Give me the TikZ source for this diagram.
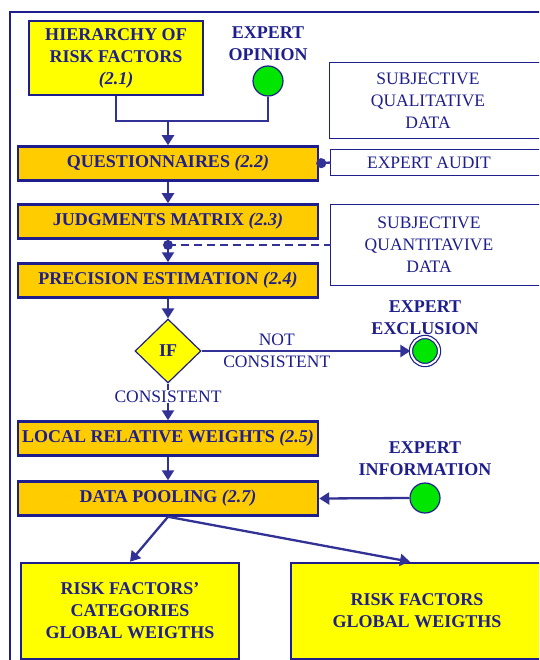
\documentclass[tikz,border=0pt]{standalone}
\usepackage{fontspec}
\setmainfont{Liberation Serif}
\usetikzlibrary{shapes.geometric,arrows.meta}
\definecolor{navy}{RGB}{30,30,140}
\definecolor{lnc}{RGB}{50,50,150}
\definecolor{gold}{RGB}{255,204,0}
\definecolor{yel}{RGB}{255,255,0}
\definecolor{grn}{RGB}{0,230,0}
\begin{document}
\begin{tikzpicture}[x=1pt,y=-1pt,
 bf/.style={font=\fontsize{18}{22}\selectfont\bfseries, text=navy},
 rg/.style={font=\fontsize{17.5}{22}\selectfont, text=navy},
 stepbox/.style={bf, draw=navy, line width=2.5pt, fill=gold, minimum width=300pt, minimum height=34pt, inner sep=0},
 ybox/.style={bf, draw=navy, line width=2.5pt, fill=yel, align=center, inner sep=0},
 wbox/.style={rg, draw=none, fill=white, align=center, inner sep=0},
 wline/.style={draw=navy, line width=1.3pt},
 expc/.style={circle, fill=grn, draw=navy, line width=1.2pt, minimum size=30pt, inner sep=0},
 conn/.style={draw=lnc, line width=2.3pt},
 arr/.style={conn, -{Triangle[width=12pt,length=10pt]}},
 lab/.style={bf, align=center},
]
\useasboundingbox (0,0) rectangle (539,660);
\clip (0,0) rectangle (539,660);
\fill[white] (0,0) rectangle (539,660);
% frame
\draw[draw=navy, line width=1.5pt] (10,665) -- (10,12) -- (545,12);

% nodes
\node[ybox, minimum width=174pt, minimum height=74pt, line width=2pt] (hier) at (116,58) {HIERARCHY OF\\RISK FACTORS\\\textit{(2.1)}};
\node[lab] (opl) at (268,44) {EXPERT\\OPINION};
\node[expc] (op) at (268,81) {};
\node[wbox, minimum width=196pt, minimum height=75pt] (sq) at (428,100.5) {SUBJECTIVE\\QUALITATIVE\\DATA};
\draw[wline] ([xshift=40pt]sq.north east) -- (sq.north west) -- (sq.south west) -- ([xshift=40pt]sq.south east);

\node[stepbox] (q) at (168,163.5) {QUESTIONNAIRES \textit{(2.2)}};
\node[wbox, minimum width=196pt, minimum height=25pt] (ea) at (429,162.5) {EXPERT AUDIT};
\draw[wline] ([xshift=40pt]ea.north east) -- (ea.north west) -- (ea.south west) -- ([xshift=40pt]ea.south east);

\node[stepbox] (jm) at (168,221.5) {JUDGMENTS MATRIX \textit{(2.3)}};
\node[wbox, minimum width=196pt, minimum height=80pt] (sqd) at (429,245) {SUBJECTIVE\\QUANTITAVIVE\\DATA};
\draw[wline] ([xshift=40pt]sqd.north east) -- (sqd.north west) -- (sqd.south west) -- ([xshift=40pt]sqd.south east);

\node[stepbox] (pe) at (168,280.5) {PRECISION ESTIMATION \textit{(2.4)}};
\node[diamond, draw=navy, line width=1.2pt, fill=yel, minimum width=66pt, minimum height=64pt, inner sep=0, bf] (if) at (168,351) {IF};
\node[circle, fill=grn, draw=navy, line width=1.2pt, double=white, double distance=2pt, minimum size=28pt, inner sep=0] (ex) at (425,351) {};
\node[lab] (exl) at (425,318) {EXPERT\\EXCLUSION};

\node[stepbox] (lw) at (168,438.5) {LOCAL RELATIVE WEIGHTS \textit{(2.5)}};
\node[stepbox] (dp) at (168,498.5) {DATA POOLING \textit{(2.7)}};
\node[lab] (infl) at (425,459) {EXPERT\\INFORMATION};
\node[expc] (inf) at (425,498) {};
\node[ybox, minimum width=218pt, minimum height=96pt] (b1) at (130,611) {RISK FACTORS'\\CATEGORIES\\GLOBAL WEIGTHS};
\node[ybox, minimum width=252pt, minimum height=96pt] (b2) at (417,611) {RISK FACTORS\\GLOBAL WEIGTHS};

% connectors
\coordinate (j) at (168,121);
\draw[conn] (hier.south) |- (j) -| (op.south);
\draw[arr] (j) -- (q.north);
\draw[conn, {Circle[length=10pt]}-] ([xshift=-3pt]q.east) -- (ea.west);
\draw[arr] (q.south) -- (jm.north);
\coordinate (d) at (168,245);
\draw[conn] (jm.south) -- (d);
\draw[arr] (d) -- (pe.north);
\draw[conn, dash pattern=on 8pt off 5pt] (d) -- (sqd.west);
\fill[lnc] (d) circle (5pt);
\draw[arr] (pe.south) -- (if.north);
\draw[arr] (if.east) -- node[rg, align=center, pos=0.36] {NOT\\CONSISTENT} (ex.west);
\draw[arr] (if.south) -- node[rg, fill=white, pos=0.35, inner sep=1pt] {CONSISTENT} (lw.north);
\draw[arr] (lw.south) -- (dp.north);
\draw[arr] (inf.west) -- (dp.east);
\draw[arr] (dp.south) -- (b1.north);
\draw[arr] (dp.south) -- ([xshift=-7pt]b2.north);
\end{tikzpicture}
\end{document}
